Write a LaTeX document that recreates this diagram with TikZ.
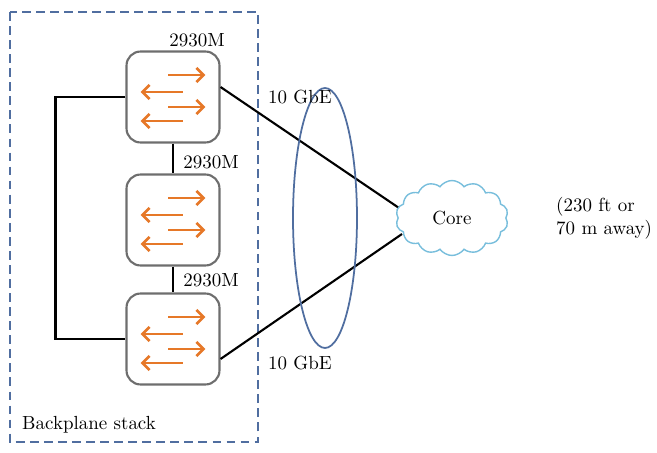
\documentclass[tikz,border=0pt]{standalone}
\usetikzlibrary{shapes.symbols,shapes.geometric,positioning,arrows.meta}
\definecolor{swgray}{RGB}{110,110,110}
\definecolor{arrorange}{RGB}{230,120,40}
\definecolor{stackblue}{RGB}{80,110,160}
\definecolor{cloudblue}{RGB}{120,190,220}
\tikzset{
  switch/.style={draw=swgray,line width=1.2pt,rounded corners=8pt,minimum width=1.86cm,minimum height=1.82cm,fill=white},
  orarr/.style={draw=arrorange,line width=1.6pt,-{Straight Barb[length=4pt,width=8pt]}},
  lbl/.style={font=\fontsize{10.8}{13}\selectfont}
}
\begin{document}
\begin{tikzpicture}[x=0.02cm,y=-0.02cm]
        \useasboundingbox (0,0) rectangle (657,453);
        \draw [stackblue,dashed,line width=1pt,dash pattern=on 5pt off 3pt] (10,12) rectangle (258,442);
        \node [lbl,anchor=west] (stack) at (16,425) {Backplane stack};
        %
        \node [switch] (s1) at (173,97) {};
        \node [switch] (s2) at (173,220) {};
        \node [switch] (s3) at (173,339) {};
        \foreach \s in {s1,s2,s3} {
          \draw [orarr] ([shift={(-0.1cm,0.44cm)}]\s.center) -- ++(0.75cm,0);
          \draw [orarr] ([shift={(0.2cm,0.1cm)}]\s.center) -- ++(-0.85cm,0);
          \draw [orarr] ([shift={(-0.1cm,-0.2cm)}]\s.center) -- ++(0.75cm,0);
          \draw [orarr] ([shift={(0.2cm,-0.48cm)}]\s.center) -- ++(-0.85cm,0);
        }
        \node [lbl] (m1) at (197,40) {2930M};
        \node [lbl] (m2) at (211,162) {2930M};
        \node [lbl] (m3) at (211,280) {2930M};
        %
        \draw [line width=1.2pt] (s1) -- (s2);
        \draw [line width=1.2pt] (s2) -- (s3);
        \draw [line width=1.2pt] (s1.west) -- ++(-70,0) |- (s3.west);
        %
        \coordinate (c1) at (402,210);
        \coordinate (c2) at (402,234);
        \draw [line width=1.2pt] ([yshift=0.2cm]s1.east) -- (c1);
        \draw [line width=1.2pt] ([yshift=-0.4cm]s3.east) -- (c2);
        \node [lbl,cloud,draw=cloudblue,fill=white,cloud puffs=14,cloud puff arc=110,aspect=1.6,minimum width=2.25cm,minimum height=1.5cm,line width=0.8pt] (core) at (452,218) {Core};
        \node [draw=stackblue,line width=1pt,ellipse,minimum width=1.28cm,minimum height=5.2cm] (lag) at (325,218) {};
        \node [lbl] (g1) at (300,97) {10 GbE};
        \node [lbl] (g2) at (300,363) {10 GbE};
        \node [lbl,align=left,anchor=west] (dist) at (550,218) {(230 ft or\\70 m away)};
      \end{tikzpicture}
\end{document}
